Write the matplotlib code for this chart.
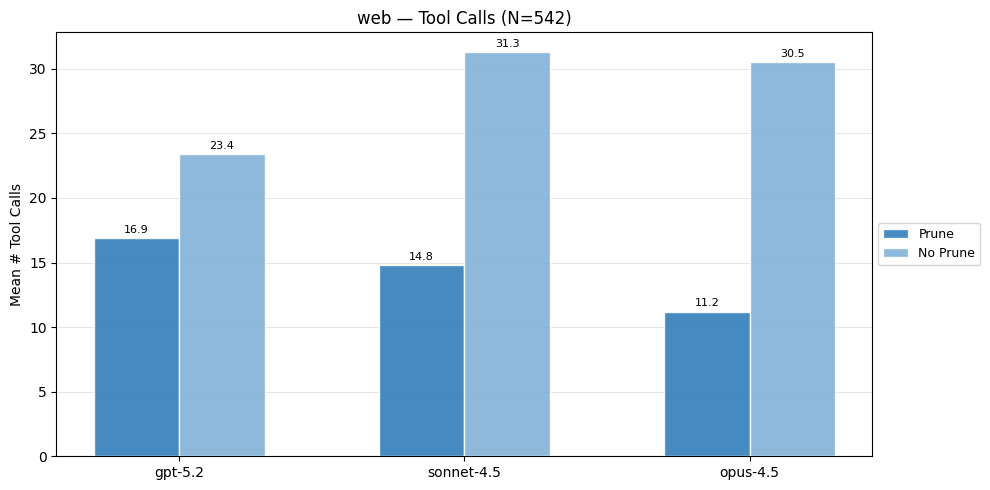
import numpy as np
import matplotlib
matplotlib.use("Agg")
import matplotlib.pyplot as plt

models = ["gpt-5.2", "sonnet-4.5", "opus-4.5"]
prune = [16.9, 14.8, 11.2]
no_prune = [23.4, 31.3, 30.5]

x = np.arange(len(models))
width = 0.3

fig, ax = plt.subplots(figsize=(9.9, 4.9), dpi=100)
b1 = ax.bar(x - width / 2, prune, width, label="Prune", color="#2b7bba", alpha=0.88, edgecolor="white", zorder=3)
b2 = ax.bar(x + width / 2, no_prune, width, label="No Prune", color="#7fb0d6", alpha=0.88, edgecolor="white", zorder=3)

for bars in (b1, b2):
    for b in bars:
        ax.text(b.get_x() + b.get_width() / 2, b.get_height() + 0.25, f"{b.get_height():.1f}",
                ha="center", va="bottom", fontsize=8)

ax.set_xticks(x)
ax.set_xticklabels(models)
ax.set_ylabel("Mean # Tool Calls")
ax.set_title("web — Tool Calls (N=542)")
ax.grid(axis="y", alpha=0.3, zorder=0)
ax.legend(loc="center left", bbox_to_anchor=(1.0, 0.5), fontsize=9)

fig.subplots_adjust(left=0.057, right=0.881, top=0.935, bottom=0.069)
plt.savefig("out.png")
plt.close()
